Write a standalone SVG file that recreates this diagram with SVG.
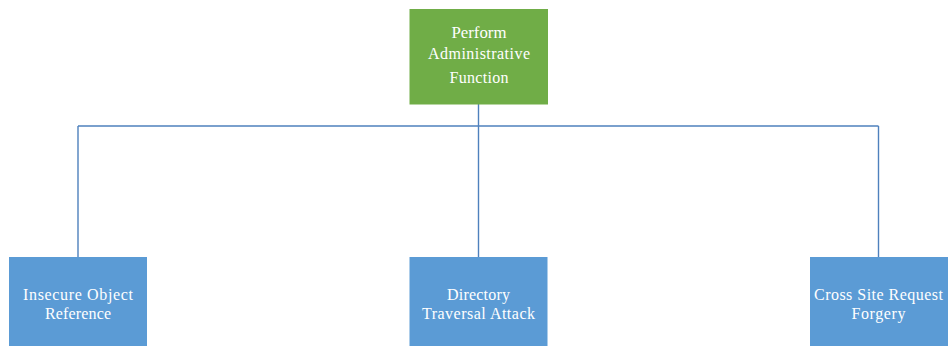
<svg xmlns="http://www.w3.org/2000/svg" width="948" height="346" viewBox="0 0 948 346">
<style>
.top{fill:#70ad47}
.leaf{fill:#5b9bd5}
.t{font-family:"Liberation Serif","Times New Roman",serif;font-size:16px;fill:#ffffff;text-anchor:middle}
.c{stroke:#4f81bd;stroke-width:1.4;fill:none}
</style>
<rect width="948" height="346" fill="#ffffff"/>
<g id="connectors">
<path class="c" d="M478.5 104V126M78 126H878.5M78 126V257M478.5 126V257M878.5 126V257"/>
</g>
<g id="node-perform">
<rect class="top" x="409.5" y="9" width="138.5" height="95.5"/>
<text class="t" x="479" y="38" textLength="55" lengthAdjust="spacingAndGlyphs">Perform</text>
<text class="t" x="479" y="59" textLength="102" lengthAdjust="spacing">Administrative</text>
<text class="t" x="479" y="83" textLength="59" lengthAdjust="spacing">Function</text>
</g>
<g id="node-insecure">
<rect class="leaf" x="9" y="257" width="138" height="95"/>
<text class="t" x="78" y="300" textLength="110" lengthAdjust="spacing">Insecure Object</text>
<text class="t" x="78" y="319" textLength="66" lengthAdjust="spacing">Reference</text>
</g>
<g id="node-directory">
<rect class="leaf" x="409.5" y="257" width="138" height="95"/>
<text class="t" x="478.5" y="300" textLength="63" lengthAdjust="spacing">Directory</text>
<text class="t" x="478.5" y="319" textLength="113" lengthAdjust="spacing">Traversal  Attack</text>
</g>
<g id="node-csrf">
<rect class="leaf" x="810" y="257" width="138" height="95"/>
<text class="t" x="878.5" y="300" textLength="129" lengthAdjust="spacing">Cross Site Request</text>
<text class="t" x="878.5" y="319" textLength="54" lengthAdjust="spacing">Forgery</text>
</g>
</svg>
